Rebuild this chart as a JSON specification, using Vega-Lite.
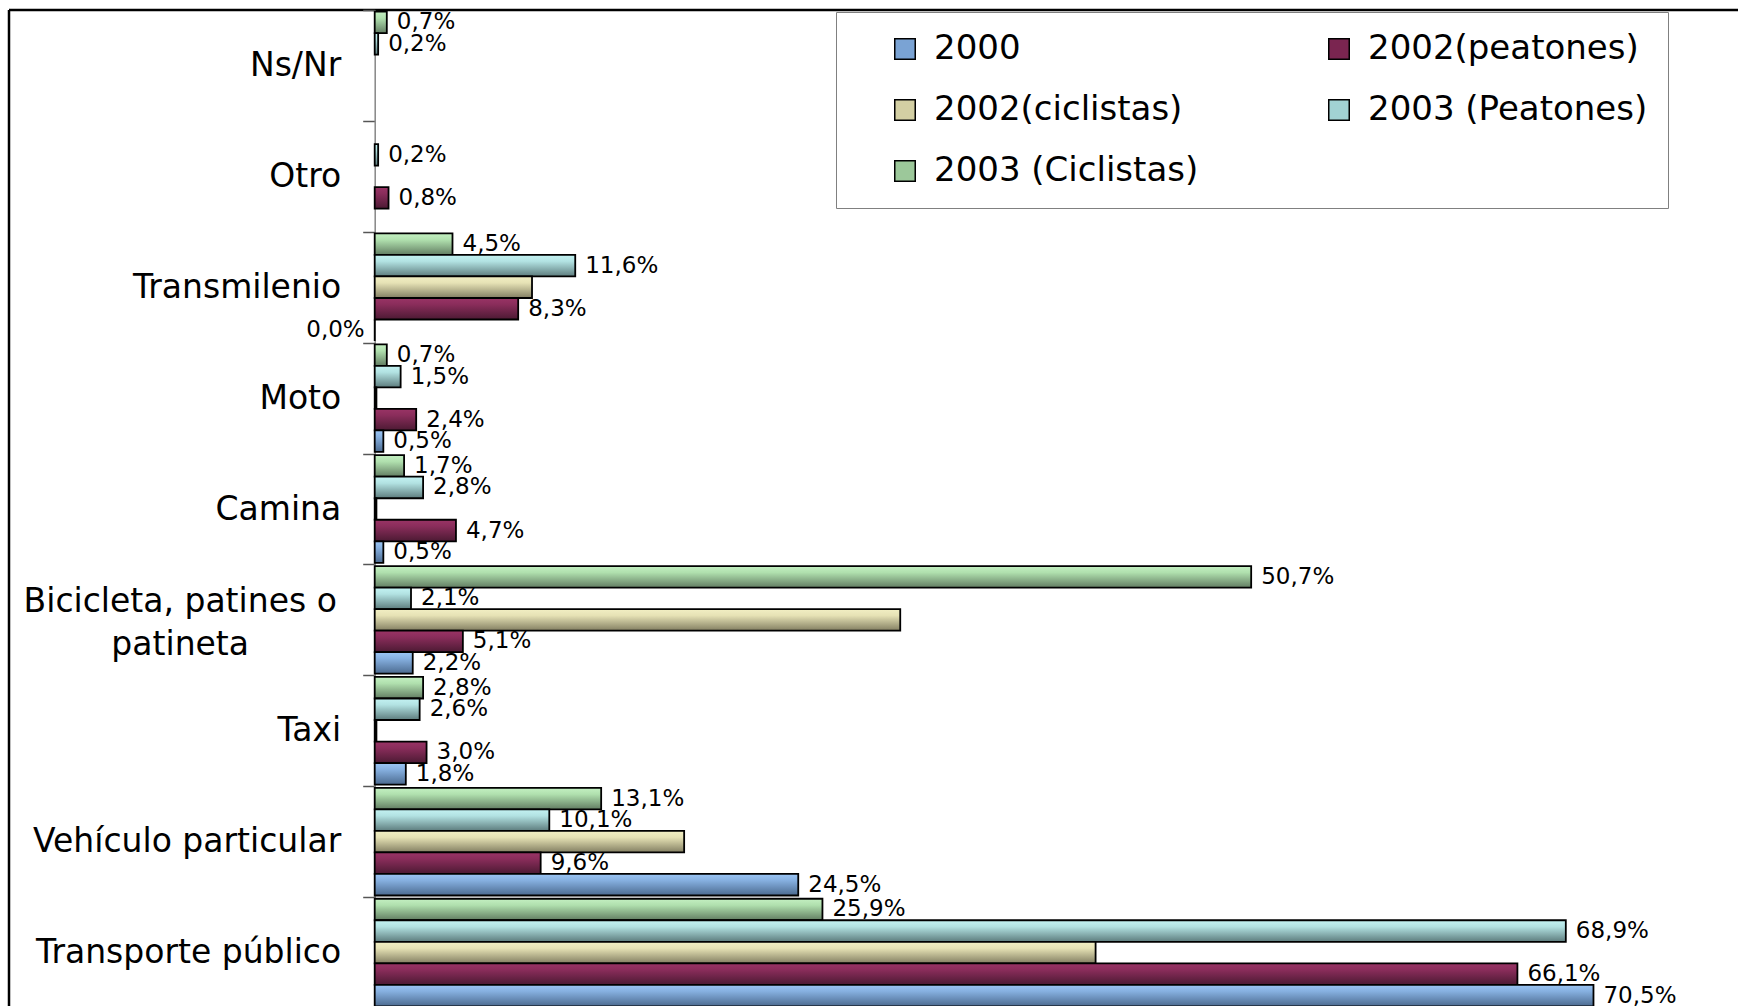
{
  "$schema": "https://vega.github.io/schema/vega-lite/v6.json",
  "width": 1729,
  "height": 996,
  "autosize": "none",
  "padding": {"left": 9, "top": 10, "right": 0, "bottom": 0},
  "background": "white",
  "config": {
    "font": "DejaVu Sans",
    "locale": {"number": {"decimal": ",", "thousands": ".", "grouping": [3], "currency": ["", "$"]}},
    "view": {"stroke": "black", "strokeWidth": 2.5, "strokeDash": [1729, 2725, 996, 0]}
  },
  "data": {
    "values": [
      {"modo": "Ns/Nr", "serie": "2003 (Ciclistas)", "v": 0.007},
      {"modo": "Ns/Nr", "serie": "2003 (Peatones)", "v": 0.002},
      {"modo": "Otro", "serie": "2003 (Peatones)", "v": 0.002},
      {"modo": "Otro", "serie": "2002(peatones)", "v": 0.008},
      {"modo": "Transmilenio", "serie": "2003 (Ciclistas)", "v": 0.045},
      {"modo": "Transmilenio", "serie": "2003 (Peatones)", "v": 0.116},
      {"modo": "Transmilenio", "serie": "2002(ciclistas)", "v": 0.091},
      {"modo": "Transmilenio", "serie": "2002(peatones)", "v": 0.083},
      {"modo": "Transmilenio", "serie": "2000", "v": 0.0},
      {"modo": "Moto", "serie": "2003 (Ciclistas)", "v": 0.007},
      {"modo": "Moto", "serie": "2003 (Peatones)", "v": 0.015},
      {"modo": "Moto", "serie": "2002(ciclistas)", "v": 0.001},
      {"modo": "Moto", "serie": "2002(peatones)", "v": 0.024},
      {"modo": "Moto", "serie": "2000", "v": 0.005},
      {"modo": "Camina", "serie": "2003 (Ciclistas)", "v": 0.017},
      {"modo": "Camina", "serie": "2003 (Peatones)", "v": 0.028},
      {"modo": "Camina", "serie": "2002(ciclistas)", "v": 0.001},
      {"modo": "Camina", "serie": "2002(peatones)", "v": 0.047},
      {"modo": "Camina", "serie": "2000", "v": 0.005},
      {"modo": "Bicicleta, patines o patineta", "serie": "2003 (Ciclistas)", "v": 0.507},
      {"modo": "Bicicleta, patines o patineta", "serie": "2003 (Peatones)", "v": 0.021},
      {"modo": "Bicicleta, patines o patineta", "serie": "2002(ciclistas)", "v": 0.304},
      {"modo": "Bicicleta, patines o patineta", "serie": "2002(peatones)", "v": 0.051},
      {"modo": "Bicicleta, patines o patineta", "serie": "2000", "v": 0.022},
      {"modo": "Taxi", "serie": "2003 (Ciclistas)", "v": 0.028},
      {"modo": "Taxi", "serie": "2003 (Peatones)", "v": 0.026},
      {"modo": "Taxi", "serie": "2002(ciclistas)", "v": 0.001},
      {"modo": "Taxi", "serie": "2002(peatones)", "v": 0.030},
      {"modo": "Taxi", "serie": "2000", "v": 0.018},
      {"modo": "Vehículo particular", "serie": "2003 (Ciclistas)", "v": 0.131},
      {"modo": "Vehículo particular", "serie": "2003 (Peatones)", "v": 0.101},
      {"modo": "Vehículo particular", "serie": "2002(ciclistas)", "v": 0.179},
      {"modo": "Vehículo particular", "serie": "2002(peatones)", "v": 0.096},
      {"modo": "Vehículo particular", "serie": "2000", "v": 0.245},
      {"modo": "Transporte público", "serie": "2003 (Ciclistas)", "v": 0.259},
      {"modo": "Transporte público", "serie": "2003 (Peatones)", "v": 0.689},
      {"modo": "Transporte público", "serie": "2002(ciclistas)", "v": 0.417},
      {"modo": "Transporte público", "serie": "2002(peatones)", "v": 0.661},
      {"modo": "Transporte público", "serie": "2000", "v": 0.705}
    ]
  },
  "encoding": {
    "y": {
      "field": "modo", "type": "nominal",
      "sort": ["Ns/Nr", "Otro", "Transmilenio", "Moto", "Camina", "Bicicleta, patines o patineta", "Taxi", "Vehículo particular", "Transporte público"],
      "scale": {"range": [0, 998], "paddingInner": 0, "paddingOuter": 0},
      "axis": {
        "title": null,
        "offset": -365.7,
        "domainColor": "#868686",
        "domainWidth": 1.5,
        "tickColor": "#555555",
        "tickWidth": 1.5,
        "tickSize": 12,
        "tickBand": "extent",
        "labelFontSize": 33,
        "labelColor": "black",
        "labelLimit": 600,
        "labelOverlap": false,
        "labelLineHeight": 43,
        "labelExpr": "datum.value == 'Bicicleta, patines o patineta' ? ['Bicicleta, patines o', 'patineta'] : datum.value",
        "labelAlign": {"condition": {"test": "datum.value == 'Bicicleta, patines o patineta'", "value": "center"}, "value": "right"},
        "labelPadding": {"condition": {"test": "datum.value == 'Bicicleta, patines o patineta'", "value": 183}, "value": 22},
        "labelOffset": {"condition": {"test": "datum.value == 'Bicicleta, patines o patineta'", "value": -18}, "value": 0}
      }
    },
    "yOffset": {
      "field": "serie", "type": "nominal",
      "sort": ["2003 (Ciclistas)", "2003 (Peatones)", "2002(ciclistas)", "2002(peatones)", "2000"],
      "scale": {"paddingInner": 0, "paddingOuter": 0.075}
    },
    "x": {
      "field": "v", "type": "quantitative",
      "scale": {"domain": [0, 0.7886], "range": [365.7, 1729], "nice": false, "zero": true},
      "axis": null
    }
  },
  "layer": [
    {
      "mark": {"type": "bar"},
      "encoding": {
        "fill": {
          "field": "serie", "type": "nominal",
          "scale": {
            "domain": ["2000", "2002(peatones)", "2002(ciclistas)", "2003 (Peatones)", "2003 (Ciclistas)"],
            "range": ["#7aa3d4", "#7a2550", "#d3cfa3", "#a2d2d3", "#9cc89a"]
          },
          "legend": {
            "title": " ",
            "titleOrient": "left",
            "titleFontSize": 1,
            "titlePadding": 32,
            "orient": "none",
            "direction": "horizontal",
            "legendX": 827,
            "legendY": 2,
            "columns": 2,
            "padding": 20,
            "fillColor": "white",
            "strokeColor": "#808080",
            "labelFontSize": 34,
            "labelColor": "black",
            "labelLimit": 600,
            "labelOffset": 12,
            "symbolType": "square",
            "symbolSize": 420,
            "symbolStrokeColor": "black",
            "symbolStrokeWidth": 1.5,
            "symbolOpacity": 1,
            "rowPadding": 27,
            "columnPadding": 123
          }
        }
      }
    },
    {
      "mark": {"type": "bar", "stroke": "black", "strokeWidth": 1.8},
      "encoding": {
        "fill": {
          "condition": [
            {"test": "datum.serie == '2000'", "value": {"gradient": "linear", "x1": 0, "y1": 0, "x2": 0, "y2": 1, "stops": [{"offset": 0, "color": "#9cc6f5"}, {"offset": 0.3, "color": "#86b0e0"}, {"offset": 1, "color": "#4b6a8f"}]}},
            {"test": "datum.serie == '2002(peatones)'", "value": {"gradient": "linear", "x1": 0, "y1": 0, "x2": 0, "y2": 1, "stops": [{"offset": 0, "color": "#9a3466"}, {"offset": 0.3, "color": "#8a2d5b"}, {"offset": 1, "color": "#4c1a33"}]}},
            {"test": "datum.serie == '2002(ciclistas)'", "value": {"gradient": "linear", "x1": 0, "y1": 0, "x2": 0, "y2": 1, "stops": [{"offset": 0, "color": "#f2efc4"}, {"offset": 0.3, "color": "#e6e2b5"}, {"offset": 1, "color": "#837f62"}]}},
            {"test": "datum.serie == '2003 (Peatones)'", "value": {"gradient": "linear", "x1": 0, "y1": 0, "x2": 0, "y2": 1, "stops": [{"offset": 0, "color": "#c4f3f3"}, {"offset": 0.3, "color": "#b2e2e2"}, {"offset": 1, "color": "#5d7c7d"}]}}
          ],
          "value": {"gradient": "linear", "x1": 0, "y1": 0, "x2": 0, "y2": 1, "stops": [{"offset": 0, "color": "#c4f0c2"}, {"offset": 0.3, "color": "#b0e0ae"}, {"offset": 1, "color": "#627d62"}]}
        }
      }
    },
    {
      "transform": [{"filter": "datum.serie != '2002(ciclistas)' && datum.v > 0"}],
      "mark": {"type": "text", "align": "left", "baseline": "middle", "dx": 10, "fontSize": 23, "color": "black"},
      "encoding": {"text": {"field": "v", "type": "quantitative", "format": ".1%"}}
    },
    {
      "transform": [{"filter": "datum.serie != '2002(ciclistas)' && datum.v == 0"}],
      "mark": {"type": "text", "align": "right", "baseline": "middle", "dx": -10, "fontSize": 23, "color": "black"},
      "encoding": {"text": {"field": "v", "type": "quantitative", "format": ".1%"}}
    }
  ]
}
